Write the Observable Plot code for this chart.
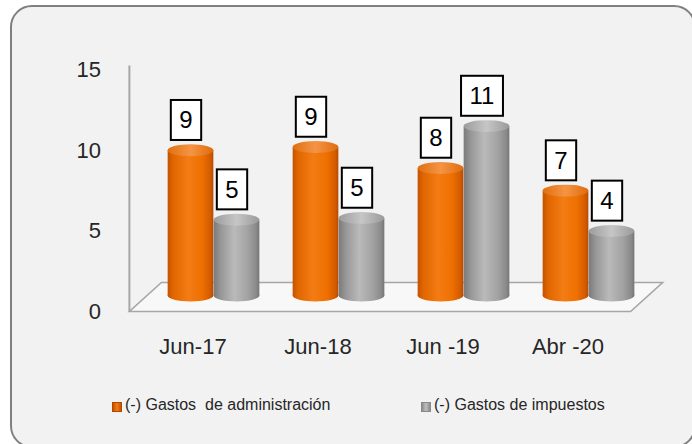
<!DOCTYPE html>
<html><head><meta charset="utf-8">
<script src="https://cdn.jsdelivr.net/npm/d3@7"></script>
<script src="https://cdn.jsdelivr.net/npm/@observablehq/plot@0.6"></script>
<style>
body{margin:0;background:#fff;width:692px;height:444px;overflow:hidden;position:relative;font-family:"Liberation Sans",Arial,sans-serif;}
#panel{position:absolute;left:10px;top:5px;width:682px;height:439px;border:2px solid #808080;border-radius:22px;background:#f2f2f2;}
#chart{position:absolute;left:0;top:0;}
.leg{position:absolute;top:396px;font-size:16px;line-height:18px;color:#262626;white-space:pre;}
.sw{position:absolute;width:8px;height:8px;top:402px;}
</style></head>
<body>
<div id="panel"></div>
<div id="chart"></div>
<script>
const categories = ["Jun-17", "Jun-18", "Jun -19", "Abr -20"];
const admin = [9.0, 9.2, 7.9, 6.5];
const impuestos = [4.7, 4.8, 10.5, 4.0];
const yTicks = [0, 5, 10, 15];
const seriesNames = ["(-) Gastos  de administración", "(-) Gastos de impuestos"];

const A = categories.map((c, i) => ({cat: c, v: admin[i], s: 0}));
const G = categories.map((c, i) => ({cat: c, v: impuestos[i], s: 1}));

const k = 0.37; // half-height of ellipse caps in y units
const BDX = 21, BDY = -16;

function cylinder(data, body, top, left) {
  const inset = left ? {insetLeft: 16.65, insetRight: 62.65} : {insetLeft: 62.65, insetRight: 16.65};
  return [
    Plot.barY(data, {x: "cat", y1: d => -k, y2: d => k, fill: body, rx: 23, ry: 6, dx: BDX, dy: BDY, ...inset}),
    Plot.barY(data, {x: "cat", y1: d => 0, y2: "v", fill: body, dx: BDX, dy: BDY, ...inset}),
    Plot.barY(data, {x: "cat", y1: d => d.v - k, y2: d => d.v + k, fill: top, rx: 23, ry: 6, dx: BDX, dy: BDY, ...inset})
  ];
}

function floor(index, scales, values, dims) {
  const x0 = dims.marginLeft, x1 = dims.width - dims.marginRight;
  const y0 = dims.height - dims.marginBottom, yTop = dims.marginTop;
  const g = d3.create("svg:g");
  const off = 32, depth = 29;
  g.append("path")
    .attr("d", `M${x0},${y0}L${x1},${y0}L${x1 + off},${y0 - depth}L${x0 + off},${y0 - depth}Z`)
    .attr("fill", "#f8f8f8").attr("stroke", "#a6a6a6").attr("stroke-width", 1.6);
  g.append("line").attr("x1", x0).attr("x2", x0).attr("y1", yTop - 4).attr("y2", y0)
    .attr("stroke", "#a6a6a6").attr("stroke-width", 2);
  return g.node();
}

const plot = Plot.plot({
  width: 692,
  height: 380,
  marginLeft: 129.4,
  marginRight: 61.4,
  marginTop: 69.5,
  marginBottom: 68.5,
  style: {background: "transparent", fontFamily: "'Liberation Sans', Arial, sans-serif", fontSize: "22px", color: "#262626"},
  x: {domain: categories, padding: 0, tickSize: 0, tickPadding: 26, label: null},
  y: {domain: [0, 15], ticks: yTicks, tickSize: 0, tickPadding: 29, label: null},
  marks: [
    floor,
    ...cylinder(A, "url(#oBody)", "url(#oTop)", true),
    ...cylinder(G, "url(#gBody)", "url(#gTop)", false),
    Plot.text(A, {x: "cat", y: "v", text: d => String(Math.round(d.v)), dx: -7, dy: -46, fontSize: 24, fill: "#000"}),
    Plot.text(G, {x: "cat", y: "v", text: d => String(Math.round(d.v)), dx: 39, dy: -46, fontSize: 24, fill: "#000"})
  ]
});

document.getElementById("chart").appendChild(plot);

const svg = d3.select(plot);
const defs = svg.insert("defs", ":first-child");
function grad(id, stops) {
  const lg = defs.append("linearGradient").attr("id", id).attr("x1", "0").attr("x2", "1").attr("y1", "0").attr("y2", "0");
  stops.forEach(([o, c]) => lg.append("stop").attr("offset", o).attr("stop-color", c));
}
grad("oBody", [[0, "#c45200"], [0.12, "#e06600"], [0.45, "#f47c14"], [0.75, "#ee7000"], [0.93, "#d45c00"], [1, "#b84a00"]]);
grad("oTop", [[0, "#e0700f"], [0.5, "#f59445"], [1, "#df6c0c"]]);
grad("gBody", [[0, "#7a7a7a"], [0.15, "#969696"], [0.45, "#bababa"], [0.75, "#a2a2a2"], [0.93, "#8a8a8a"], [1, "#757575"]]);
grad("gTop", [[0, "#9c9c9c"], [0.5, "#c6c6c6"], [1, "#9a9a9a"]]);

// boxes around value labels
svg.selectAll('g[aria-label="text"] text').each(function() {
  const bb = this.getBBox();
  const px = 8.5, py = 6.5;
  d3.select(this.parentNode).insert("rect", () => this)
    .attr("x", bb.x - px).attr("y", bb.y - py)
    .attr("width", bb.width + 2 * px).attr("height", bb.height + 2 * py)
    .attr("transform", this.getAttribute("transform"))
    .attr("fill", "#fff").attr("stroke", "#000").attr("stroke-width", 2);
});

// legend
const legColors = ["linear-gradient(90deg,#c45200,#f47c14,#c45200)", "linear-gradient(90deg,#8a8a8a,#c0c0c0,#8a8a8a)"];
const legBorder = ["#b04800", "#8a8a8a"];
const legX = [112, 421];
seriesNames.forEach((name, i) => {
  const sw = document.createElement("div");
  sw.className = "sw";
  sw.style.left = legX[i] + "px";
  sw.style.background = legColors[i];
  sw.style.border = "0.5px solid " + legBorder[i];
  document.body.appendChild(sw);
  const t = document.createElement("div");
  t.className = "leg";
  t.style.left = (legX[i] + 13) + "px";
  t.textContent = name;
  document.body.appendChild(t);
});
</script>
</body></html>
